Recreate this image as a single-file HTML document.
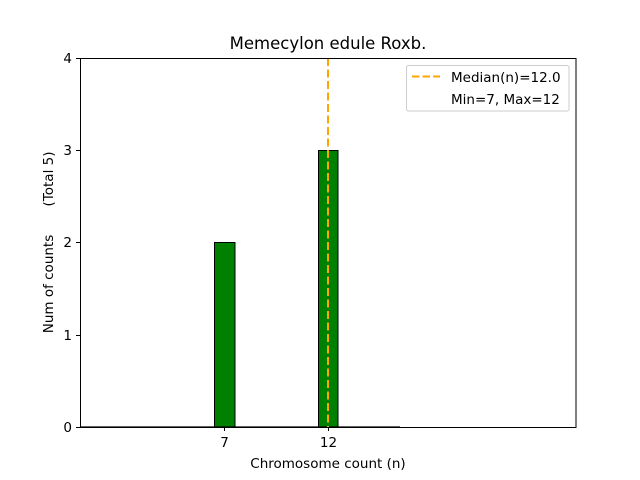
<!DOCTYPE html>
<html><head><style>body{margin:0;background:#fff}svg{display:block}text{font-family:"DejaVu Sans","Liberation Sans",sans-serif}</style></head>
<body>
<svg width="640" height="480" viewBox="0 0 640 480" xmlns="http://www.w3.org/2000/svg">
<rect width="640" height="480" fill="#fff"/>
<text x="328" y="49" font-size="16.5" text-anchor="middle">Memecylon edule Roxb.</text>
<rect x="214.5" y="242.5" width="20.5" height="184.5" fill="#008000" stroke="#000" stroke-width="1"/>
<rect x="318.5" y="150.5" width="19.5" height="276.5" fill="#008000" stroke="#000" stroke-width="1"/>
<line x1="80" y1="427" x2="400" y2="427" stroke="#000" stroke-width="1.2"/>
<line x1="328" y1="58" x2="328" y2="427" stroke="#ffa500" stroke-width="2" stroke-dasharray="8,3.5"/>
<rect x="80.5" y="58.5" width="495.5" height="369" fill="none" stroke="#000" stroke-width="1"/>
<g stroke="#000" stroke-width="1">
<line x1="76" y1="427.5" x2="80" y2="427.5"/>
<line x1="76" y1="335.5" x2="80" y2="335.5"/>
<line x1="76" y1="242.5" x2="80" y2="242.5"/>
<line x1="76" y1="150.5" x2="80" y2="150.5"/>
<line x1="76" y1="58.5" x2="80" y2="58.5"/>
<line x1="224.5" y1="427" x2="224.5" y2="431"/>
<line x1="328.5" y1="427" x2="328.5" y2="431"/>
</g>
<g font-size="13.5" text-anchor="end">
<text x="72" y="432">0</text>
<text x="72" y="340">1</text>
<text x="72" y="247">2</text>
<text x="72" y="155">3</text>
<text x="72" y="63">4</text>
</g>
<g font-size="13.5" text-anchor="middle">
<text x="224.5" y="447">7</text>
<text x="328.5" y="447">12</text>
<text x="328" y="468">Chromosome count (n)</text>
</g>
<text transform="translate(53,284) rotate(-90)" font-size="13.5" text-anchor="middle">Num of counts</text>
<text transform="translate(53,179) rotate(-90)" font-size="13.5" text-anchor="middle">(Total 5)</text>
<rect x="406.5" y="65.5" width="162.5" height="45.5" rx="2" fill="#fff" fill-opacity="0.8" stroke="#ccc" stroke-width="1"/>
<line x1="412" y1="76.5" x2="440" y2="76.5" stroke="#ffa500" stroke-width="2" stroke-dasharray="7.4,3.2"/>
<text x="451" y="82" font-size="13.5">Median(n)=12.0</text>
<text x="451" y="104" font-size="13.5">Min=7, Max=12</text>
</svg>
</body></html>
